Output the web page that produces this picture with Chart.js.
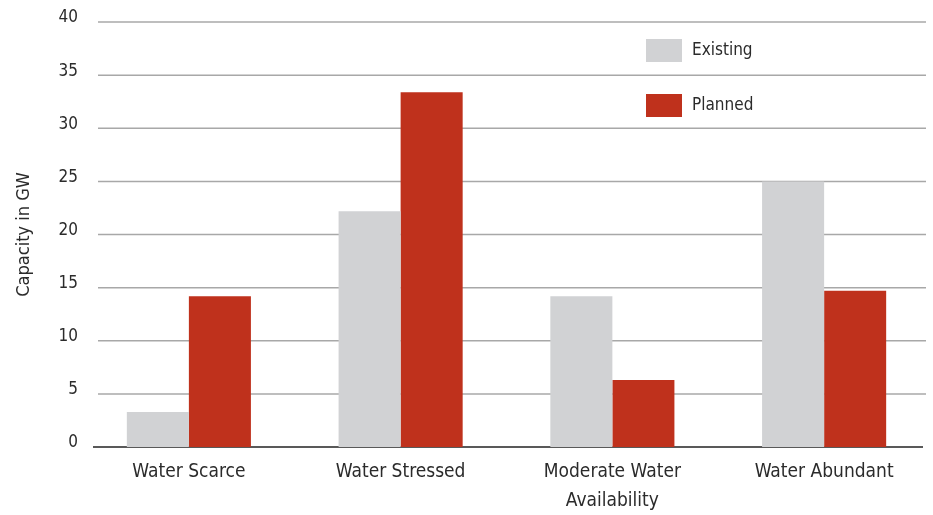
<!DOCTYPE html>
<html>
<head>
<meta charset="utf-8">
<script src="https://cdn.jsdelivr.net/npm/chart.js@4"></script>
<style>
  html, body { margin: 0; padding: 0; background: #fff; }
  #wrap { width: 933px; height: 515px; }
</style>
</head>
<body>
<div id="wrap"><canvas id="c" width="933" height="515"></canvas></div>
<script>
// Generating capacity (GW) by water-risk category
const categories = ['Water Scarce', 'Water Stressed', ['Moderate Water', 'Availability'], 'Water Abundant'];
const seriesNames = ['Existing', 'Planned'];
const existing = [3.3, 22.2, 14.2, 25.0];
const planned = [14.2, 33.4, 6.3, 14.7];
const yMin = 0;
const yMax = 40;
const yStep = 5;
const yTitle = 'Capacity in GW';

const FONT = "'Liberation Sans Narrow', 'DejaVu Sans Condensed', 'Roboto', sans-serif";
const TEXT = '#2b2b2b';
const GREY = '#d1d2d4';
const RED = '#bf311c';

// Horizontal rules at each tick plus the dark baseline, inset from the plot edges
const rulesPlugin = {
  id: 'rules',
  beforeDatasetsDraw(chart) {
    const { ctx, chartArea } = chart;
    const y = chart.scales.y;
    ctx.save();
    y.ticks.forEach(t => {
      const py = y.getPixelForValue(t.value);
      ctx.beginPath();
      if (t.value === 0) {
        ctx.strokeStyle = '#222';
        ctx.lineWidth = 1.6;
        ctx.moveTo(chartArea.left + 10, py);
        ctx.lineTo(chartArea.right - 7, py);
      } else {
        ctx.strokeStyle = '#a8a8a8';
        ctx.lineWidth = 1.5;
        ctx.moveTo(chartArea.left + 15, py);
        ctx.lineTo(chartArea.right - 4, py);
      }
      ctx.stroke();
    });
    ctx.restore();
  }
};

// Stacked legend inside the plot, top right
const sideLegend = {
  id: 'sideLegend',
  afterDraw(chart) {
    const { ctx, chartArea } = chart;
    const x0 = chartArea.right - 284;
    ctx.save();
    chart.data.datasets.forEach((ds, i) => {
      const top = 39 + i * 55;
      ctx.fillStyle = ds.backgroundColor;
      ctx.fillRect(x0, top, 36, 23);
      ctx.fillStyle = TEXT;
      ctx.font = '17px ' + FONT;
      ctx.textAlign = 'left';
      ctx.textBaseline = 'middle';
      ctx.fillText(ds.label, x0 + 46, top + 12);
    });
    ctx.restore();
  }
};

new Chart(document.getElementById('c'), {
  type: 'bar',
  data: {
    labels: categories,
    datasets: [
      { label: seriesNames[0], data: existing, backgroundColor: GREY },
      { label: seriesNames[1], data: planned, backgroundColor: RED }
    ]
  },
  options: {
    responsive: false,
    animation: false,
    devicePixelRatio: 1,
    datasets: { bar: { categoryPercentage: 0.586, barPercentage: 1.0, borderWidth: 0 } },
    layout: { padding: { top: 22, right: 3, bottom: 0, left: 0 } },
    plugins: { legend: { display: false }, tooltip: { enabled: false } },
    scales: {
      x: {
        grid: { display: false, drawTicks: false },
        border: { display: false },
        ticks: { color: TEXT, font: { family: FONT, size: 19, lineHeight: 1.52 }, padding: 11, maxRotation: 0, autoSkip: false },
        afterFit(s) { s.height = 68; }
      },
      y: {
        min: yMin,
        max: yMax,
        grid: { display: false, drawTicks: false },
        border: { display: false },
        ticks: { stepSize: yStep, color: TEXT, font: { family: FONT, size: 17 }, padding: 5, labelOffset: -4 },
        title: { display: true, text: yTitle, color: TEXT, font: { family: FONT, size: 18 }, padding: { top: 14, bottom: 0 } },
        afterFit(s) { s.width = 83; }
      }
    }
  },
  plugins: [rulesPlugin, sideLegend]
});
</script>
</body>
</html>
